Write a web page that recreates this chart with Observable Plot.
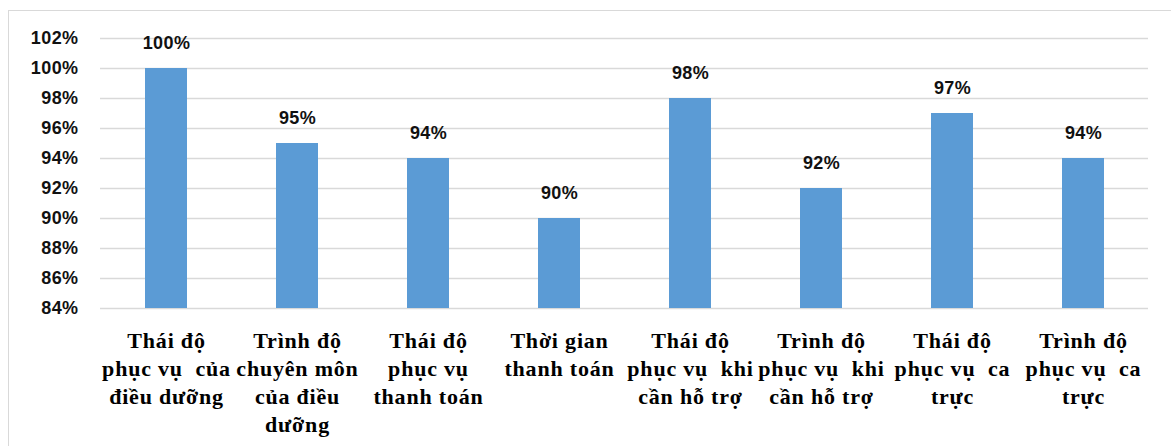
<!DOCTYPE html>
<html>
<head>
<meta charset="utf-8">
<script src="https://cdn.jsdelivr.net/npm/d3@7"></script>
<script src="https://cdn.jsdelivr.net/npm/@observablehq/plot@0.6"></script>
<style>
  html, body { margin: 0; padding: 0; background: #fff; overflow: hidden; }
  #wrap { position: relative; width: 1171px; height: 446px; }
  #frame { position: absolute; left: 8px; top: 10px; width: 2000px; height: 2000px; border: 1.5px solid #d9d9d9; box-sizing: border-box; }
  #chart { position: absolute; left: 0; top: 0; }
  .xlab text { letter-spacing: 0.8px; }
  .ylab text, .vlab text { letter-spacing: 0.4px; }
</style>
</head>
<body>
<div id="wrap"><div id="frame"></div><div id="chart"></div></div>
<script>
const categories = [
  "Thái độ phục vụ của điều dưỡng",
  "Trình độ chuyên môn của điều dưỡng",
  "Thái độ phục vụ thanh toán",
  "Thời gian thanh toán",
  "Thái độ phục vụ khi cần hỗ trợ",
  "Trình độ phục vụ khi cần hỗ trợ",
  "Thái độ phục vụ ca trực",
  "Trình độ phục vụ ca trực"
];
const tickLabels = [
  "Thái độ\nphục vụ  của\nđiều dưỡng",
  "Trình độ\nchuyên môn\ncủa điều\ndưỡng",
  "Thái độ\nphục vụ\nthanh toán",
  "Thời gian\nthanh toán",
  "Thái độ\nphục vụ  khi\ncần hỗ trợ",
  "Trình độ\nphục vụ  khi\ncần hỗ trợ",
  "Thái độ\nphục vụ  ca\ntrực",
  "Trình độ\nphục vụ  ca\ntrực"
];
const values = [100, 95, 94, 90, 98, 92, 97, 94];
const yTicks = [84, 86, 88, 90, 92, 94, 96, 98, 100, 102];

const data = categories.map((c, i) => ({category: c, value: values[i]}));
const labelOf = new Map(categories.map((c, i) => [c, tickLabels[i]]));
const baseline = yTicks[0];

const plot = Plot.plot({
  width: 1171,
  height: 446,
  marginLeft: 100,
  marginRight: 23,
  marginTop: 38,
  marginBottom: 138,
  style: {background: "transparent"},
  x: {domain: categories, paddingInner: 0.68, paddingOuter: 0.34, label: null},
  y: {domain: [yTicks[0], yTicks[yTicks.length - 1]], label: null},
  marks: [
    Plot.gridY(yTicks, {stroke: "#d9d9d9", strokeOpacity: 1, strokeWidth: 1.5}),
    Plot.barY(data, {x: "category", y1: baseline, y2: "value", fill: "#5B9BD5"}),
    Plot.text(data, {
      x: "category", y: "value", text: d => d.value + "%",
      dy: -25, fontSize: 18, fontWeight: "bold", className: "vlab",
      fontFamily: "Liberation Sans, Arial, sans-serif", fill: "#111"
    }),
    Plot.axisY(yTicks, {
      tickSize: 0, tickPadding: 22, tickFormat: d => d + "%", label: null,
      fontSize: 18, fontWeight: "bold", className: "ylab",
      fontFamily: "Liberation Sans, Arial, sans-serif", fill: "#111"
    }),
    Plot.axisX({
      tickSize: 0, tickPadding: 20, tickFormat: d => labelOf.get(d), label: null,
      fontSize: 22, fontWeight: "bold", lineHeight: 1.27, className: "xlab",
      fontFamily: "Liberation Serif, Times New Roman, serif", fill: "#000"
    })
  ]
});
document.getElementById("chart").appendChild(plot);
</script>
</body>
</html>
